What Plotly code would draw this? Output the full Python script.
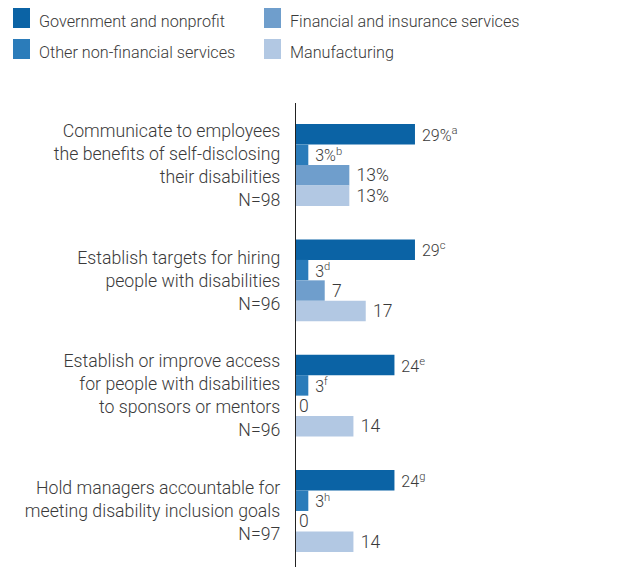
import plotly.graph_objects as go

# Survey categories (multi-line labels with sample sizes)
categories = [
    "Communicate to employees<br>the benefits of self-disclosing<br>their disabilities<br>N=98",
    "Establish targets for hiring<br>people with disabilities<br>N=96",
    "Establish or improve access<br>for people with disabilities<br>to sponsors or mentors<br>N=96",
    "Hold managers accountable for<br>meeting disability inclusion goals<br>N=97",
]

series_names = [
    "Government and nonprofit",
    "Other non-financial services",
    "Financial and insurance services",
    "Manufacturing",
]

government = [29, 29, 24, 24]
other_nonfin = [3, 3, 3, 3]
financial = [13, 7, 0, 0]
manufacturing = [13, 17, 14, 14]

# Footnote markers for the first two series
gov_notes = ["a", "c", "e", "g"]
other_notes = ["b", "d", "f", "h"]

colors = ["#0B63A5", "#2B7CBA", "#6F9ECC", "#B2C8E3"]

values = [government, other_nonfin, financial, manufacturing]
notes = [gov_notes, other_notes, None, None]

FONT = "Roboto"
TXT = "#3a3a3a"


def label(v, idx, note_list):
    pct = "%" if idx == 0 else ""
    sup = f"<sup>{note_list[idx]}</sup>" if note_list else ""
    pad = " " if v > 0 else ""
    return f"{pad}{v}{pct}{sup}"


fig = go.Figure()
ypos = list(range(len(categories)))
for name, vals, col, nl in zip(series_names, values, colors, notes):
    fig.add_trace(go.Bar(
        y=ypos,
        x=vals,
        orientation="h",
        name=name,
        marker=dict(color=col, line=dict(width=0)),
        text=[label(v, k, nl) for k, v in enumerate(vals)],
        textposition="outside",
        textfont=dict(family=FONT, size=17.5, color=TXT, weight=300),
        cliponaxis=False,
        showlegend=False,
    ))

W, H = 625, 567
ML, MT = 296, 103

fig.update_layout(
    width=W, height=H,
    margin=dict(l=ML, r=0, t=MT, b=0),
    barmode="group",
    bargap=0.29,
    bargroupgap=0,
    plot_bgcolor="white",
    paper_bgcolor="white",
    font=dict(family=FONT, size=17.5, color=TXT),
    xaxis=dict(range=[0, 80.2], visible=False, fixedrange=True),
    yaxis=dict(
        tickmode="array",
        tickvals=ypos,
        ticktext=categories,
        range=[3.486, -0.538],
        showline=True,
        linecolor="#222222",
        linewidth=1.3,
        showgrid=False,
        zeroline=False,
        ticks="",
        ticklabelstandoff=11,
        tickfont=dict(family=FONT, size=17.7, color=TXT, weight=300),
    ),
)

# Legend drawn as swatches with labels in pixel-placed paper coordinates
pw, ph = W - ML, H - MT


def px_x(x):
    return (x - ML) / pw


def px_y(y):
    return 1 - (y - MT) / ph


legend_pos = [(13, 8), (13, 39), (264, 8), (264, 39)]
for (x0, y0), name, col in zip(legend_pos, series_names, colors):
    fig.add_shape(type="rect", xref="paper", yref="paper",
                  x0=px_x(x0), x1=px_x(x0 + 17), y0=px_y(y0), y1=px_y(y0 + 20),
                  fillcolor=col, line=dict(width=0))
    fig.add_annotation(xref="paper", yref="paper", x=px_x(x0 + 24), y=px_y(y0 + 13),
                       text=name, showarrow=False, xanchor="left", yanchor="middle",
                       font=dict(family=FONT, size=16.2, color=TXT, weight=300))

fig.write_html("out.html")
